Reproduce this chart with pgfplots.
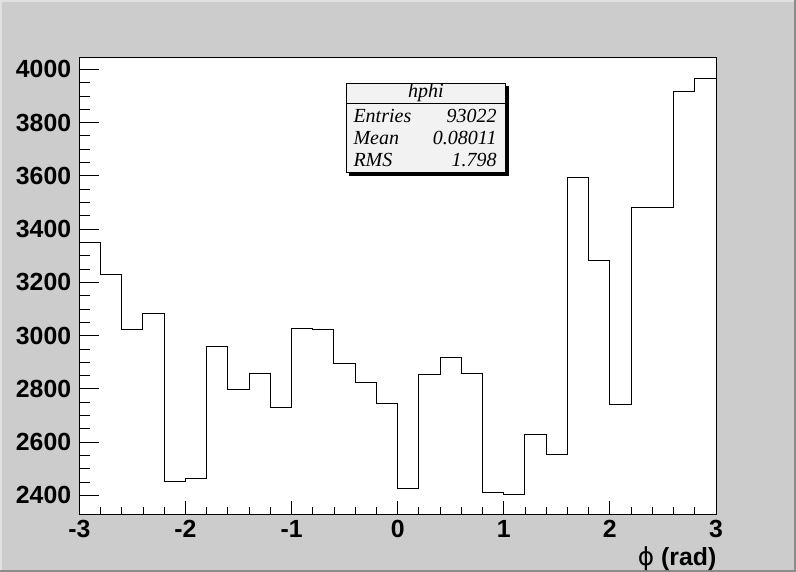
\documentclass[border=0pt]{standalone}
\usepackage{fontspec}
\setmainfont{Liberation Sans}
\newfontfamily\serifit{Liberation Serif}
\newfontfamily\dejavu{DejaVu Sans}
\usepackage{pgfplots}
\pgfplotsset{compat=1.18}
\definecolor{canvas}{RGB}{204,204,204}
\definecolor{statfill}{RGB}{242,242,242}
\definecolor{darkedge}{RGB}{140,140,140}
\definecolor{lightedge}{RGB}{225,225,225}

\pgfplotstableread{
x y
-3.0 3349
-2.8 3230
-2.6 3023
-2.4 3084
-2.2 2454
-2.0 2464
-1.8 2960
-1.6 2798
-1.4 2858
-1.2 2730
-1.0 3027
-0.8 3023
-0.6 2896
-0.4 2824
-0.2 2745
0.0 2426
0.2 2854
0.4 2918
0.6 2858
0.8 2411
1.0 2404
1.2 2629
1.4 2554
1.6 3595
1.8 3283
2.0 2742
2.2 3482
2.4 3482
2.6 3917
2.8 3966
3.0 3966
}\hphi

\newcommand{\tickfont}{\fontsize{24.8bp}{25bp}\selectfont\bfseries}

\pgfplotsset{
  common/.style={
    at={(79.3bp,57.7bp)}, anchor=south west,
    scale only axis, width=636.7bp, height=457bp,
    xmin=-3, xmax=3, ymin=2329, ymax=4045,
    tick align=inside,
    tick style={black, line width=0.8bp},
    /pgf/number format/assume math mode=true,
    /pgf/number format/1000 sep={},
    scaled ticks=false,
    tick label style={font=\tickfont},
  }
}

\begin{document}
\begin{tikzpicture}
\fill[canvas] (0bp,0bp) rectangle (796bp,572bp);
\draw[lightedge, line width=2bp] (1bp,0bp) -- (1bp,571bp) -- (796bp,571bp);
\draw[darkedge, line width=2bp] (0bp,1bp) -- (795bp,1bp) -- (795bp,572bp);

\begin{axis}[common,
  axis background/.style={fill=white},
  axis line style={line width=1bp},
  xtick={-3,-2,-1,0,1,2,3},
  minor x tick num=4,
  xtick pos=left,
  ytick=\empty,
  major tick length=13.7bp, minor tick length=7bp,
  xticklabel style={inner sep=0pt, yshift=-6bp},
]
\addplot[const plot, black, line width=1bp] table[x=x,y=y] {\hphi};
\end{axis}

\begin{axis}[common,
  axis line style={draw=none},
  xtick=\empty,
  ytick={2400,2600,2800,3000,3200,3400,3600,3800,4000},
  minor y tick num=3,
  ytick pos=left,
  major tick length=19.7bp, minor tick length=10.7bp,
  yticklabel style={inner sep=0pt, xshift=-8bp},
]
\end{axis}

% axis title
\node[anchor=base east, inner sep=0pt] at (716.5bp,7bp) {\fontsize{24.8bp}{25bp}\selectfont{\dejavu\fontseries{m}\selectfont\symbol{"03D5}} \bfseries(rad)};

% stats box
\fill[black] (349bp,396.3bp) rectangle (508.7bp,485.7bp);
\filldraw[fill=statfill, draw=black, line width=0.8bp] (346bp,399.3bp) rectangle (505.7bp,488.7bp);
\draw[black, line width=0.8bp] (346bp,468.7bp) -- (505.7bp,468.7bp);
\begin{scope}[every node/.style={inner sep=0pt}, font=\serifit\itshape\fontsize{20bp}{20bp}\selectfont]
\node[anchor=base] at (425.9bp,474.5bp) {hphi};
\node[anchor=base west] at (353.3bp,449.3bp) {Entries};
\node[anchor=base east] at (496.7bp,449.3bp) {93022};
\node[anchor=base west] at (353.3bp,427bp) {Mean};
\node[anchor=base east] at (496.7bp,427bp) {0.08011};
\node[anchor=base west] at (353.3bp,405bp) {RMS};
\node[anchor=base east] at (496.7bp,405bp) {1.798};
\end{scope}

\pgfresetboundingbox
\path (0bp,0bp) rectangle (796bp,572bp);
\end{tikzpicture}
\end{document}
